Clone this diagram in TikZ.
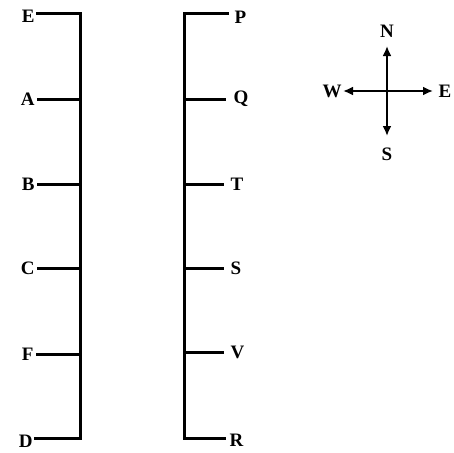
\documentclass[tikz,border=0pt]{standalone}
\usepackage{fontspec}
\setmainfont{Liberation Serif}
\usetikzlibrary{arrows.meta}
\begin{document}
\begin{tikzpicture}[x=1pt,y=-1pt,line width=3pt,
  lbl/.style={font=\fontsize{19}{21}\selectfont\bfseries,inner sep=1pt},
  dir/.style={-{Latex[length=10pt,width=9pt]},line width=2.6pt}]
\useasboundingbox (0,0) rectangle (454,452);

% left column
\coordinate (lt) at (80,14);
\coordinate (lb) at (80,438);
\node[lbl,anchor=east] (E) at (37,16) {E};
\node[lbl,anchor=east] (A) at (37,99) {A};
\node[lbl,anchor=east] (B) at (37,184) {B};
\node[lbl,anchor=east] (C) at (37,268) {C};
\node[lbl,anchor=east] (F) at (36,354) {F};
\node[lbl,anchor=east] (D) at (35,441) {D};
\draw[line cap=rect] (E.east |- lt) -- (lt) -- (lb) -- (D.east |- lb);
\draw (A.east) -- (A.east -| lt);
\draw (B.east) -- (B.east -| lt);
\draw (C.east) -- (C.east -| lt);
\draw (F.east) -- (F.east -| lt);

% right column
\coordinate (rt) at (184,14);
\coordinate (rb) at (184,438);
\node[lbl,anchor=west] (P) at (232,17) {P};
\node[lbl,anchor=west] (Q) at (231,99) {Q};
\node[lbl,anchor=west] (T) at (228,184) {T};
\node[lbl,anchor=west] (S) at (228,268) {S};
\node[lbl,anchor=west] (V) at (228,352) {V};
\node[lbl,anchor=west] (R) at (227,440) {R};
\draw[line cap=rect] ([xshift=-5pt]P.west |- rt) -- (rt) -- (rb) -- ([xshift=-3pt]R.west |- rb);
\draw (rt |- Q) -- ([xshift=-5pt]Q.west);
\draw (rt |- T) -- ([xshift=-4pt]T.west);
\draw (rt |- S) -- ([xshift=-4pt]S.west);
\draw (rt |- V) -- ([xshift=-4pt]V.west);

% compass
\coordinate (o) at (387,91);
\coordinate (tn) at (387,46);
\coordinate (ts) at (387,136);
\coordinate (tw) at (343,91);
\coordinate (te) at (433,91);
\node[lbl] (cN) at (387,31) {N};
\node[lbl] (cS) at (387,154) {S};
\node[lbl] (cW) at (332,91) {W};
\node[lbl] (cE) at (445,91) {E};
\draw[dir] (o) -- (tn);
\draw[dir] (o) -- (ts);
\draw[dir] (o) -- (tw);
\draw[dir] (o) -- (te);
\end{tikzpicture}
\end{document}
